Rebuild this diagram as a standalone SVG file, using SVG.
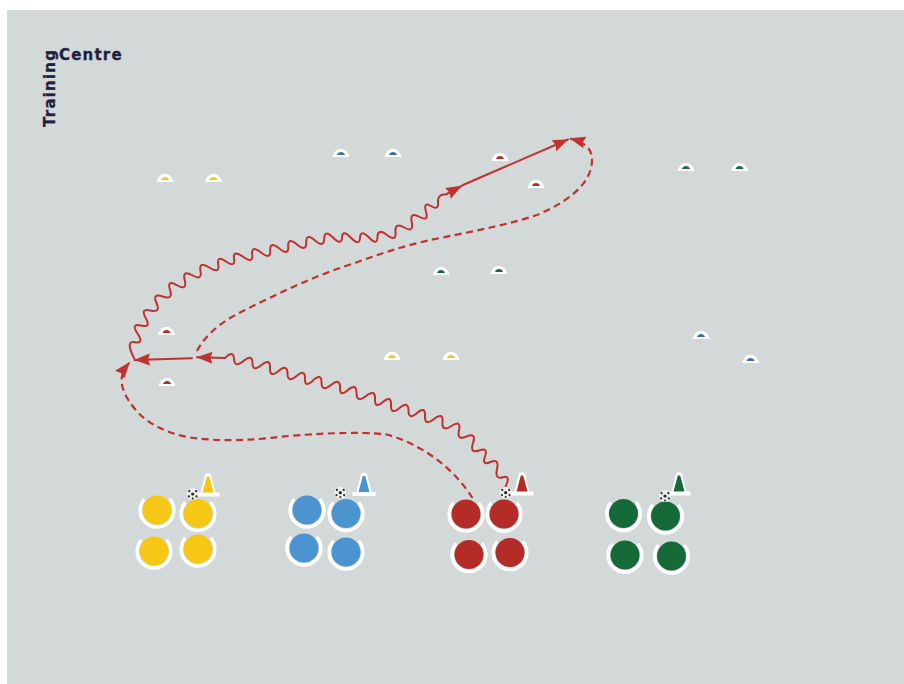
<svg xmlns="http://www.w3.org/2000/svg" xmlns:xlink="http://www.w3.org/1999/xlink" width="904" height="684" viewBox="0 0 904 684">
<style>
.pitch{fill:#d3d8d8}
.y{fill:#f6c714}.b{fill:#4c94d0}.b2{fill:#3a6ea8}.r{fill:#b42c26}.g{fill:#166a37}
.ring{fill:none;stroke:#fff;stroke-width:3.6}
.w{fill:#fff}
.c{fill:none;stroke:#c1312e;stroke-width:2;stroke-linejoin:round;stroke-linecap:round}
.d{stroke-width:2.2;stroke-linecap:butt;stroke-dasharray:7 4.5}
.t{font-family:"DejaVu Sans",sans-serif;font-weight:700;font-size:15px;letter-spacing:1.2px;fill:#1f2140;stroke:#1f2140;stroke-width:.3px}
</style>
<defs>
<marker id="arrow" markerUnits="userSpaceOnUse" markerWidth="17" markerHeight="13" refX="15.5" refY="6" orient="auto">
<path d="M0,0L16,6L0,12L2,6z" fill="#c1312e" stroke="none"/>
</marker>
<path id="ring" class="ring" d="M-12.5,-11A16.8,16.8 0 1 0 12.5,-11"/>
<path id="dome" class="w" d="M-8.5,1C-6,-10 6,-10 8.5,1z"/>
<path id="conebase" class="w" d="M-11.5,-2H11.5V2H-11.5zM-8,0L-3,-20Q0,-23 3,-20L8,0z"/>
<g id="ball"><circle r="6" fill="#eef0f0"/><g fill="#26282a"><circle r="1.6"/><circle cx="-3.4" cy="-2.8" r="1.1"/><circle cx="3.4" cy="-2.8" r="1.1"/><circle cx="-3.8" cy="2.4" r="1.1"/><circle cx="3.8" cy="2.4" r="1.1"/><circle cy="4.4" r="1"/></g></g>
</defs>
<rect width="904" height="684" fill="#fff"/>
<rect class="pitch" x="7" y="10" width="897" height="674"/>
<g id="title">
<text class="t" x="59" y="60">Centre</text>
<text class="t" transform="translate(55,127) rotate(-90)">Training</text>
</g>
<g id="markers">
<g id="m-y1" transform="translate(165,181)"><use href="#dome"/><path class="y" d="M-4,-1C-3,-5 3,-5 4,-1z"/></g>
<g id="m-y2" transform="translate(213.5,181)"><use href="#dome"/><path class="y" d="M-4,-1C-3,-5 3,-5 4,-1z"/></g>
<g id="m-b1" transform="translate(341,156)"><use href="#dome"/><path class="b2" d="M-4,-1C-3,-5 3,-5 4,-1z"/></g>
<g id="m-b2" transform="translate(393,156)"><use href="#dome"/><path class="b2" d="M-4,-1C-3,-5 3,-5 4,-1z"/></g>
<g id="m-r1" transform="translate(500,160)"><use href="#dome"/><path class="r" d="M-4,-1C-3,-5 3,-5 4,-1z"/></g>
<g id="m-r2" transform="translate(536,187)"><use href="#dome"/><path class="r" d="M-4,-1C-3,-5 3,-5 4,-1z"/></g>
<g id="m-g1" transform="translate(686,170)"><use href="#dome"/><path class="g" d="M-4,-1C-3,-5 3,-5 4,-1z"/></g>
<g id="m-g2" transform="translate(739.5,170)"><use href="#dome"/><path class="g" d="M-4,-1C-3,-5 3,-5 4,-1z"/></g>
<g id="m-g3" transform="translate(441,274)"><use href="#dome"/><path class="g" d="M-4,-1C-3,-5 3,-5 4,-1z"/></g>
<g id="m-g4" transform="translate(499,273)"><use href="#dome"/><path class="g" d="M-4,-1C-3,-5 3,-5 4,-1z"/></g>
<g id="m-r3" transform="translate(166.5,334)"><use href="#dome"/><path class="r" d="M-4,-1C-3,-5 3,-5 4,-1z"/></g>
<g id="m-r4" transform="translate(167,385)"><use href="#dome"/><path class="r" d="M-4,-1C-3,-5 3,-5 4,-1z"/></g>
<g id="m-y3" transform="translate(392,359)"><use href="#dome"/><path class="y" d="M-4,-1C-3,-5 3,-5 4,-1z"/></g>
<g id="m-y4" transform="translate(451,359)"><use href="#dome"/><path class="y" d="M-4,-1C-3,-5 3,-5 4,-1z"/></g>
<g id="m-b3" transform="translate(701,338)"><use href="#dome"/><path class="b2" d="M-4,-1C-3,-5 3,-5 4,-1z"/></g>
<g id="m-b4" transform="translate(750.5,362)"><use href="#dome"/><path class="b2" d="M-4,-1C-3,-5 3,-5 4,-1z"/></g>
</g>
<g id="players">
<g id="p-y1" transform="translate(157,510)"><use href="#ring"/><circle class="y" r="14.5"/></g>
<g id="p-y2" transform="translate(198,513.5)"><use href="#ring"/><circle class="y" r="14.5"/></g>
<g id="p-y3" transform="translate(154,551)"><use href="#ring"/><circle class="y" r="14.5"/></g>
<g id="p-y4" transform="translate(198,549)"><use href="#ring"/><circle class="y" r="14.5"/></g>
<g id="p-b1" transform="translate(307,510)"><use href="#ring"/><circle class="b" r="14.5"/></g>
<g id="p-b2" transform="translate(346,513.5)"><use href="#ring"/><circle class="b" r="14.5"/></g>
<g id="p-b3" transform="translate(304,548)"><use href="#ring"/><circle class="b" r="14.5"/></g>
<g id="p-b4" transform="translate(346,552)"><use href="#ring"/><circle class="b" r="14.5"/></g>
<g id="p-r1" transform="translate(466,514)"><use href="#ring"/><circle class="r" r="14.5"/></g>
<g id="p-r2" transform="translate(504,514)"><use href="#ring"/><circle class="r" r="14.5"/></g>
<g id="p-r3" transform="translate(469,554.5)"><use href="#ring"/><circle class="r" r="14.5"/></g>
<g id="p-r4" transform="translate(510,552.5)"><use href="#ring"/><circle class="r" r="14.5"/></g>
<g id="p-g1" transform="translate(623.5,513.5)"><use href="#ring"/><circle class="g" r="14.5"/></g>
<g id="p-g2" transform="translate(665.5,516)"><use href="#ring"/><circle class="g" r="14.5"/></g>
<g id="p-g3" transform="translate(625,555)"><use href="#ring"/><circle class="g" r="14.5"/></g>
<g id="p-g4" transform="translate(671.5,556)"><use href="#ring"/><circle class="g" r="14.5"/></g>
</g>
<g id="cones">
<g id="cone-y" transform="translate(208,494.5)"><use href="#conebase"/><path class="y" d="M-5.5,-2L-1.2,-18H1.2L5.5,-2z"/></g>
<g id="cone-b" transform="translate(364,494)"><use href="#conebase"/><path class="b" d="M-5.5,-2L-1.2,-18H1.2L5.5,-2z"/></g>
<g id="cone-r" transform="translate(522,493.5)"><use href="#conebase"/><path class="r" d="M-5.5,-2L-1.2,-18H1.2L5.5,-2z"/></g>
<g id="cone-g" transform="translate(679,493.5)"><use href="#conebase"/><path class="g" d="M-5.5,-2L-1.2,-18H1.2L5.5,-2z"/></g>
</g>
<g id="connectors">
<path class="c d" marker-end="url(#arrow)" d="M472.5,498C458,475 430,447 387,434.5C360,431 300,434 270,438C240,441 215,441 190,437.5C165,433 145,422 135,409C124,396 119,383 123,373Q125,368 129.5,362.5"/>
<path class="c d" marker-end="url(#arrow)" d="M197,351C207,332 225,320 243,311C275,295 310,278 343,267C375,256 400,246 440,238C480,230 510,224 537,215C565,203 592,185 592,160C592,150 587,143 570,138.5"/>
<path class="c" marker-end="url(#arrow)" d="M505,488Q511.5,474.6 503,477.25T497,469T490.5,462T485,456.5T479,450.5T473,443T466.5,436.5T459,430.25T451.5,426T442.5,422T434,419T425,416T417,413T408.5,410.5T399.5,408T391,405T383,402T375,399T366,396T356.5,393T348,390T340,387.5T331,385T321.5,382.5T313,380.5T305,378.5T296.5,376T287.5,373.5T278.5,371T270,368T261.5,365T252.5,363T243.5,361T234,359T225,358L197,357.3"/>
<path class="c" marker-end="url(#arrow)" d="M134,358Q125,340.3 134.75,342.25T137.5,333.5T141,325.5T145.75,318T150.5,310.5T156.5,303T162.75,296.5T170,289.75T177,285.25T184.75,280.25T192.25,275.25T200.5,271T209.25,267.5T218.25,264.5T226,261.5T234,258.75T243,256.75T252.25,254.5T261,252.5T270.25,250.5T279.25,248.5T288.25,246.5T297,244.5T306.25,242.5T315,240.5T324.25,238.5T333,237.5T342,237.5T351,237.75T360,237.75T369,237.5T377.5,237T387,235T395.5,232T404.25,227.5T411.75,222.25T419.25,216.75T426,211.75T431,206T438,202.5T446.25,194.25L461.5,186"/>
<path class="c" marker-end="url(#arrow)" d="M463,185L568,139.5"/>
<path class="c" marker-end="url(#arrow)" d="M192,358.3L134.5,360"/>
</g>
<g id="balls">
<use id="ball-y" href="#ball" x="192.7" y="494"/>
<use id="ball-b" href="#ball" x="340.3" y="492.7"/>
<use id="ball-r" href="#ball" x="505.7" y="492.7"/>
<use id="ball-g" href="#ball" x="665" y="496"/>
</g>
</svg>
